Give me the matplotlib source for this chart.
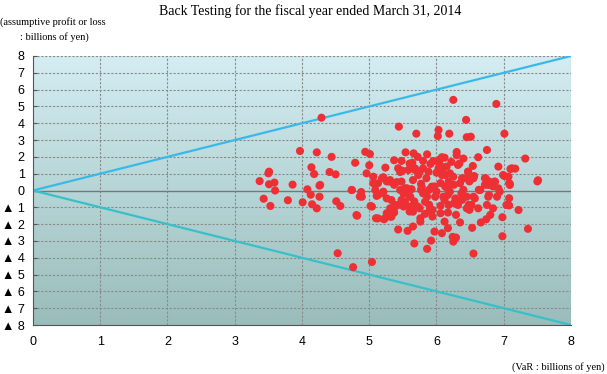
import numpy as np
import matplotlib.pyplot as plt

# back-testing points: VaR (x) vs assumptive profit/loss (y), billions of yen
var_x = [
    4.29, 5.44, 3.97, 4.22, 4.44, 4.94, 5.01, 5.54, 4.79, 5.00, 5.37, 5.48, 5.60, 4.14, 4.18,
    4.41, 4.50, 4.96, 5.24, 5.46, 5.49, 3.51, 3.50, 3.37, 3.51, 3.59, 3.60, 3.86, 4.08, 4.26,
    4.13, 4.26, 3.43, 3.53, 3.79, 4.01, 4.15, 4.22, 4.51, 4.57, 4.74, 4.88, 4.89, 4.82, 5.02,
    5.06, 5.13, 5.21, 5.30, 5.41, 5.53,
    6.25, 6.89, 6.44, 5.70, 6.03, 6.02, 6.19, 6.45, 6.51, 7.01, 5.66, 6.30, 6.30, 6.08, 6.75,
    6.62, 7.32, 5.64, 5.80, 5.91, 6.04, 6.10, 6.15, 6.32, 6.54, 6.92, 7.10, 7.17, 5.68, 5.75,
    6.00, 6.08, 6.20, 6.25, 6.47, 6.38, 6.56, 6.73, 6.86, 7.01, 7.09, 7.51,
    5.43, 5.48, 5.46, 5.58, 5.68, 5.73, 5.65, 5.56, 5.51, 5.61, 5.53, 5.43, 5.61, 5.65, 5.80,
    5.88, 5.85, 5.93, 5.78, 5.80, 5.83, 5.75, 5.90, 5.98, 6.00, 6.08, 6.13, 6.03, 6.18, 6.13,
    6.10, 6.20, 6.28, 6.18, 6.35, 6.42, 6.47, 6.52, 6.37, 6.32, 6.45, 6.52, 6.55,
    6.55, 6.45, 6.57, 6.65, 6.72, 6.77, 6.87, 6.92, 6.94, 6.90, 6.77, 6.75, 6.62, 6.84, 7.07,
    6.99, 7.12, 7.09, 7.04, 7.22,
    4.27, 4.74, 5.09, 5.13, 5.21, 5.26, 5.33, 5.38, 5.31, 5.04, 4.81, 5.13, 5.23, 5.33, 5.06,
    5.19, 5.31,
    4.53, 4.76, 5.04, 6.55, 5.86, 5.67, 5.43, 5.57, 5.92, 6.25, 6.24, 6.29, 6.98, 7.36, 6.53,
    6.98, 7.08, 7.08, 7.50, 6.78, 6.63, 6.80, 6.74, 6.66, 6.35, 6.49, 6.12, 6.17, 6.08, 5.97,
    5.94, 5.76, 5.76, 5.65, 5.31, 5.26, 5.10, 5.22, 4.86, 5.11, 5.20, 5.37, 5.37, 5.48, 5.51,
    5.60, 5.67, 5.72, 5.86, 5.89, 5.94, 6.06, 6.12, 6.17, 6.26, 6.40, 6.38, 6.48, 6.29, 6.17,
    6.06, 5.83, 5.60, 5.54, 5.63, 5.77, 5.89, 5.77, 5.97, 6.06, 6.17, 6.26, 6.49, 6.72, 6.78,
    6.84, 7.08, 5.26, 5.37,
    5.95, 6.05, 6.22, 6.40, 5.72, 5.86, 6.12, 6.34,
]
pl_y = [
    4.33, 3.80, 2.35, 2.27, 2.00, 2.30, 2.17, 2.27, 1.65, 1.50, 1.80, 1.76, 1.60, 1.38, 0.98,
    1.10, 0.96, 1.02, 1.36, 1.10, 1.18, 1.12, 1.02, 0.56, 0.37, 0.47, 0.00, 0.35, 0.07, 0.29,
    -0.25, -0.37, -0.49, -0.92, -0.58, -0.70, -0.82, -1.06, -0.64, -0.92, 0.03, -0.09, -0.37, -1.50, -0.92,
    0.43, 0.43, 0.79, 0.53, 0.50, 0.13,
    5.39, 5.15, 4.20, 3.38, 3.60, 3.24, 3.38, 3.17, 3.20, 3.38, 2.21, 2.29, 2.10, 1.98, 2.41,
    1.98, 1.90, 1.65, 1.76, 1.58, 1.62, 1.38, 1.42, 1.52, 1.46, 1.42, 1.28, 1.30, 1.22, 1.12,
    1.06, 0.92, 1.02, 0.82, 1.12, 0.73, 0.86, 0.73, 0.52, 0.86, 0.39, 0.61,
    1.32, 0.53, 0.03, 1.22, 1.32, 0.92, 0.62, 0.13, -0.17, -0.37, -0.67, -0.86, -0.96, -1.26, 1.32,
    1.12, 0.73, 0.23, 0.23, -0.17, -0.67, -1.06, -1.16, -0.37, -0.07, 1.22, 0.92, 1.32, 0.53, 0.23,
    -0.37, -0.07, -0.47, -0.86, 0.43, 0.73, 1.12, 0.82, -0.17, -0.86, -1.06, -0.86, -0.37,
    0.73, -0.37, -0.47, 0.03, 0.73, 0.33, 0.53, 0.13, -0.07, -0.37, -0.37, -0.86, -1.06, -1.06, 0.82,
    0.92, 1.32, 0.33, -0.86, -1.16,
    0.33, 0.03, 0.03, -0.27, -0.07, -0.47, -0.57, -0.86, -1.06, -0.96, -1.46, -1.66, -1.66, -1.56, 0.82,
    0.73, 0.62,
    -3.73, -4.56, -4.25, -3.75, -3.47, -3.15, -2.32, -2.40, -2.98, -3.04, -2.76, -2.80, -2.72, -2.28, -2.22,
    -1.59, -0.89, -0.46, 0.54, -0.26, 0.04, -1.45, -1.71, -1.90, -1.90, -1.15, -1.85, -2.24, -2.54, -2.44,
    -1.55, -1.65, -1.85, -2.14, -1.55, -1.35, -1.65, -1.71, -0.36, -0.32, -0.16, -1.05, -1.31, -0.56, -0.95,
    -0.36, -0.65, -0.95, -0.36, -0.85, -1.15, -0.91, -0.56, -0.26, -0.75, 0.04, -0.56, -0.85, -1.45, -1.31,
    -1.35, -1.39, -1.25, -0.16, 0.08, 0.04, 0.04, 0.40, 0.24, 0.44, 0.14, 0.34, 0.54, 0.34, 0.54,
    0.24, 0.44, 0.54, 0.34,
    1.75, 1.85, 1.70, 1.90, 2.00, 2.15, 1.95, 1.60,
]

x_ticks = [0, 1, 2, 3, 4, 5, 6, 7, 8]
y_ticks = list(range(-8, 9))
y_labels = [('▲ %d' % -v) if v < 0 else str(v) for v in y_ticks]
upper_line = [0, 8]   # profit side limit
lower_line = [0, -8]  # loss side limit

serif = ['Liberation Serif', 'DejaVu Serif']
sans = ['Liberation Sans', 'DejaVu Sans']

fig = plt.figure(figsize=(6.07, 3.74), dpi=100)
ax = fig.add_axes([33 / 607, 1 - 325 / 374, 538 / 607, 269 / 374])

# vertical gradient background
grad = np.linspace(0, 1, 256).reshape(-1, 1)
top = np.array([0.83, 0.93, 0.95])
bot = np.array([0.60, 0.74, 0.73])
img = top + (bot - top) * grad[:, :, None]
ax.imshow(img, extent=[0, 8, -8, 8], aspect='auto', origin='upper', zorder=0)

for v in x_ticks[1:]:
    ax.axvline(v, color='#8a8a8a', lw=0.8, ls=(0, (2, 1.5)), zorder=1)
for v in y_ticks:
    if v != 0:
        ax.axhline(v, color='#8a8a8a', lw=0.8, ls=(0, (2, 1.5)), zorder=1)
ax.axhline(0, color='#777777', lw=1.0, zorder=1)

ax.plot([0, 8], upper_line, color='#3cb8e6', lw=1.6, zorder=2)
ax.plot([0, 8], lower_line, color='#38c0c8', lw=1.6, zorder=2)

ax.scatter(var_x, pl_y, s=34, color='#ee3035', edgecolors='none', zorder=3)

ax.set_xlim(0, 8)
ax.set_ylim(-8, 8)
ax.set_xticks(x_ticks)
ax.set_yticks(y_ticks)
ax.set_xticklabels([str(v) for v in x_ticks], family=sans, fontsize=9, weight='medium')
ax.set_yticklabels(y_labels, family=sans, fontsize=9, weight='medium')
ax.tick_params(axis='y', direction='in', length=3, color='#555555', pad=6)
ax.tick_params(axis='x', length=0, pad=8)
for s in ['top', 'right']:
    ax.spines[s].set_visible(False)
ax.spines['left'].set_color('#555555')
ax.spines['bottom'].set_color('#555555')

fig.text(310 / 607, 1 - 11 / 374, 'Back Testing for the fiscal year ended March 31, 2014',
         family=serif, fontsize=10, ha='center', va='center')
fig.text(0.0, 1 - 22 / 374, '(assumptive profit or loss', family=serif, fontsize=7.5,
         ha='left', va='center')
fig.text(20 / 607, 1 - 37 / 374, ': billions of yen)', family=serif, fontsize=7.5,
         ha='left', va='center')
fig.text(605 / 607, 1 - 367 / 374, '(VaR : billions of yen)', family=serif, fontsize=7.5,
         ha='right', va='center')

fig.savefig('out.png', dpi=100)
